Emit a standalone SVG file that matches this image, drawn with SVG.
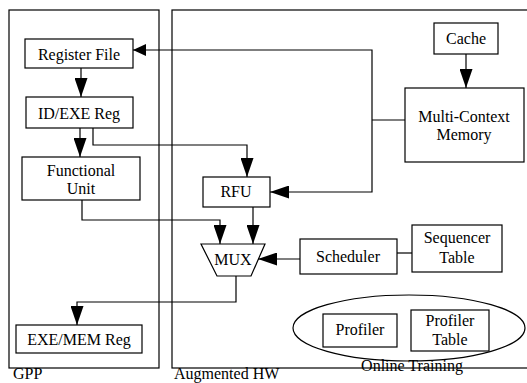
<svg xmlns="http://www.w3.org/2000/svg" width="527" height="383" viewBox="0 0 527 383">
<defs>
<marker id="ah" viewBox="0 0 19 13" refX="19" refY="6.5" markerWidth="19" markerHeight="13" markerUnits="userSpaceOnUse" orient="auto">
<path d="M0,0 L19,6.5 L0,13 Z" fill="#000"/>
</marker>
<marker id="ahs" viewBox="0 0 13 12" refX="13" refY="6" markerWidth="13" markerHeight="12" markerUnits="userSpaceOnUse" orient="auto">
<path d="M0,0 L13,6 L0,12 Z" fill="#000"/>
</marker>
<style>
rect,ellipse,polygon{fill:#fff;stroke:#000;stroke-width:1.2}
.c{fill:none;stroke:#000;stroke-width:1.2}
.a{marker-end:url(#ah)}
.s{marker-end:url(#ahs)}
text{font-family:'Liberation Serif','Times New Roman',serif;font-size:16px;fill:#000;text-anchor:middle}
.l{text-anchor:start}
</style>
</defs>
<rect width="527" height="383" fill="#fff" style="stroke:none"/>
<g id="gpp"><rect x="9" y="10" width="150" height="358"/><text class="l" x="13" y="379">GPP</text></g>
<g id="aug"><rect x="172" y="10" width="360" height="358"/><text class="l" x="174" y="379">Augmented HW</text></g>
<g id="online"><ellipse cx="409" cy="328" rx="116" ry="33"/><text x="412" y="371">Online Training</text></g>
<g id="regfile"><rect x="25" y="39" width="108" height="29"/><text x="79" y="60">Register File</text></g>
<g id="idexe"><rect x="26" y="97" width="107" height="31"/><text x="79" y="119">ID/EXE Reg</text></g>
<g id="fu"><rect x="22" y="157" width="118" height="43"/><text x="81" y="176">Functional</text><text x="81" y="194">Unit</text></g>
<g id="exemem"><rect x="16" y="325" width="126" height="28"/><text x="79" y="345">EXE/MEM Reg</text></g>
<g id="cache"><rect x="434" y="23" width="64" height="31"/><text x="466" y="44">Cache</text></g>
<g id="mcm"><rect x="405" y="88" width="119" height="74"/><text x="464" y="122">Multi-Context</text><text x="464" y="140">Memory</text></g>
<g id="rfu"><rect x="203" y="177" width="67" height="30"/><text x="236" y="197">RFU</text></g>
<g id="mux"><polygon points="201,244 265,244 251,276 217,276"/><text x="233" y="265">MUX</text></g>
<g id="sched"><rect x="300" y="239" width="97" height="35"/><text x="348" y="262">Scheduler</text></g>
<g id="seqtab"><rect x="412" y="225" width="90" height="47"/><text x="457" y="243">Sequencer</text><text x="457" y="263">Table</text></g>
<g id="profiler"><rect x="323" y="314" width="74" height="33"/><text x="360" y="335">Profiler</text></g>
<g id="proftab"><rect x="411" y="310" width="78" height="41"/><text x="450" y="326">Profiler</text><text x="450" y="345">Table</text></g>
<g id="connectors">
<path class="c a" d="M81,68 V97"/>
<path class="c a" d="M80,128 V157"/>
<path class="c a" d="M93,128 V145 H247 V177"/>
<path class="c s" d="M372,120 V50 H133"/>
<path class="c a" d="M372,120 V192 H270"/>
<path class="c" d="M372,120 H405"/>
<path class="c a" d="M466,54 V88"/>
<path class="c a" d="M82,200 V220 H220 V244"/>
<path class="c a" d="M253,207 V244"/>
<path class="c a" d="M300,259 H258"/>
<path class="c" d="M397,253 H412"/>
<path class="c a" d="M236,276 V302 H77 V325"/>
</g>
</svg>
